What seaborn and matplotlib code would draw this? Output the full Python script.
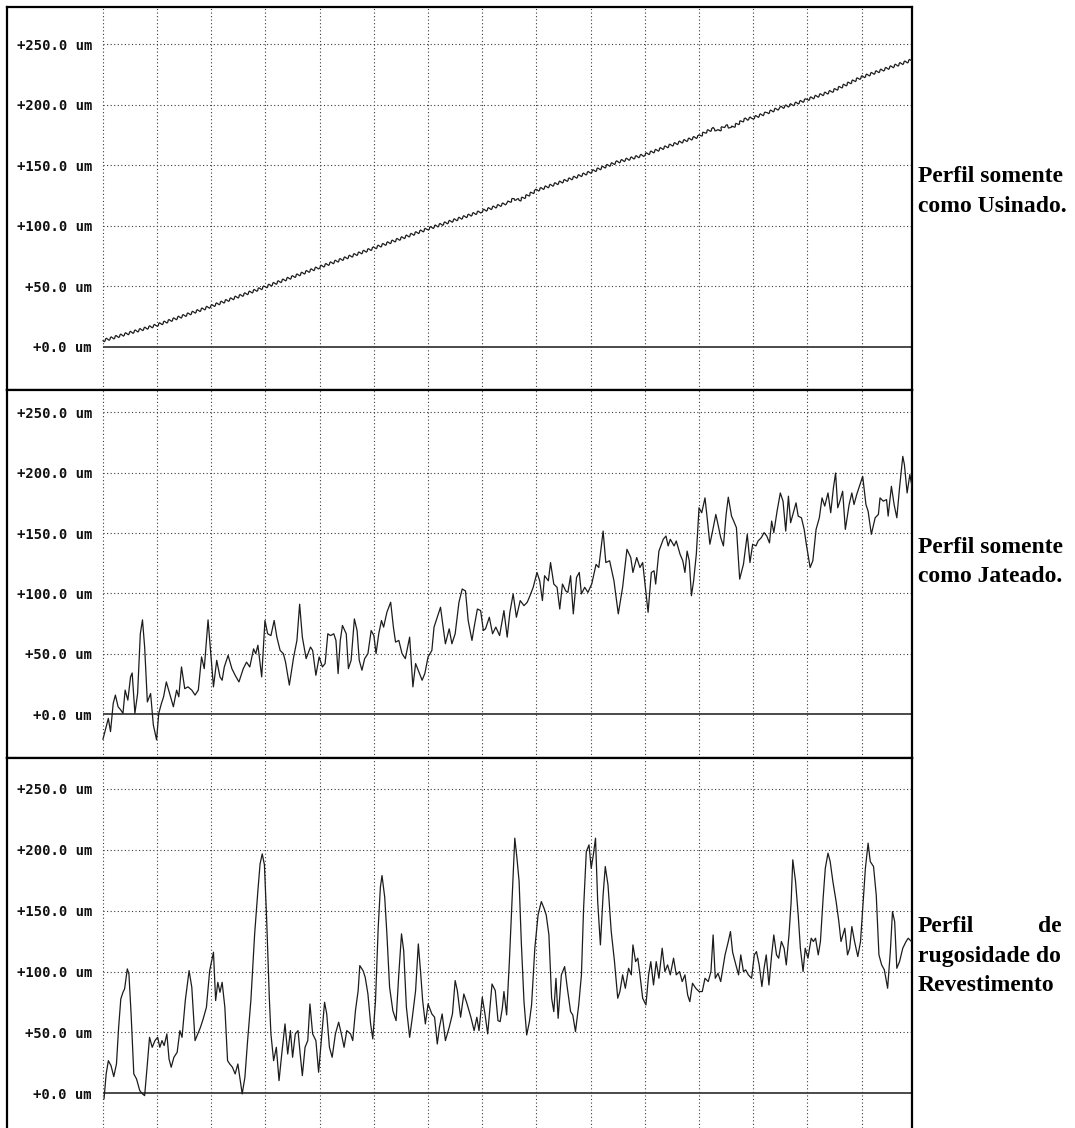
import matplotlib
matplotlib.use("Agg")
import matplotlib.pyplot as plt
import seaborn as sns
import pandas as pd

# ---------------- data (x = position along profile, grid every 100) -------------
x_usinado = [0, 100, 200, 300, 400, 500, 600, 700, 747, 759, 768, 800, 900, 949,
             1000, 1047, 1101, 1112, 1127, 1136, 1148, 1160, 1184, 1200, 1226,
             1250, 1274, 1300, 1346, 1398, 1442, 1493]
y_usinado = [5, 17.9, 33.5, 49.5, 65.8, 81.5, 97.5, 112.1, 119, 122.3, 121, 129.2,
             144.4, 152.6, 158.7, 166.4, 174.1, 177.4, 180.2, 178.2, 182.9, 181,
             187.8, 189.2, 193.4, 197.5, 200.3, 204.4, 211.3, 222.4, 229.3, 237]

x_jateado = [
    0, 6, 10, 14, 19, 23, 28, 33, 37, 41,
    46, 51, 54, 59, 64, 69, 73, 77, 82, 88,
    93, 99, 103, 108, 112, 117, 123, 130, 136, 140,
    145, 151, 157, 164, 170, 176, 182, 187, 191, 194,
    199, 204, 210, 216, 220, 224, 231, 238, 244, 251,
    259, 265, 271, 278, 282, 286, 293, 299, 304, 310,
    316, 321, 327, 333, 337, 344, 352, 358, 363, 368,
    375, 383, 387, 393, 399, 405, 410, 415, 420, 426,
    430, 434, 438, 442, 449, 453, 458, 464, 469, 473,
    478, 483, 489, 495, 500, 504, 509, 514, 518, 524,
    531, 536, 540, 546, 552, 558, 566, 572, 577, 583,
    589, 594, 600, 607, 611, 617, 623, 627, 632, 639,
    644, 650, 657, 663, 669, 674, 681, 685, 691, 697,
    702, 706, 713, 719, 725,
    732, 740, 746, 751, 757, 763, 770, 777, 783, 788,
    794, 801, 806, 811, 815, 822, 826, 832, 838, 843,
    848, 854, 858, 863, 868, 874, 879, 883, 889, 895,
    902, 910, 915, 923, 928, 935, 943, 951, 959, 967,
    974, 978, 985, 991, 996, 1001, 1006, 1012, 1017, 1020,
    1026, 1034, 1039, 1043, 1047, 1054, 1058, 1065, 1070, 1074,
    1078, 1082, 1086, 1090, 1095, 1100, 1105, 1111, 1115, 1120,
    1125, 1131, 1135, 1140, 1145, 1150, 1154, 1160, 1164, 1169,
    1175, 1182, 1189, 1194, 1199, 1205, 1209, 1215, 1220, 1225,
    1230, 1234, 1238, 1244, 1250, 1255, 1260, 1265, 1269, 1274,
    1279, 1283, 1289, 1294, 1298, 1305, 1310, 1316, 1322, 1327,
    1332, 1338, 1343, 1348, 1352, 1356, 1360, 1365, 1370, 1377,
    1382, 1386, 1391, 1396, 1402, 1408, 1412, 1418, 1425, 1431,
    1434, 1440, 1446, 1449, 1455, 1460, 1465, 1470, 1476, 1479,
    1484, 1489, 1494]
y_jateado = [
    -21, -10.4, -3.6, -14.6, 8.8, 15.7, 6, 3.3, 0.5, 19.8,
    11.5, 30.8, 34, 0.5, 17, 66.5, 78, 55.5, 10, 17,
    -9, -21.4, 0.5, 8.8, 14.3, 26.6, 17, 6, 19.8, 14.3,
    39, 21, 22.5, 19.8, 15.7, 19.8, 47.3, 37.6, 61, 78,
    50, 22.5, 44.5, 30.8, 28, 39, 48.6, 37.6, 32.1, 26.6,
    37.6, 43, 39, 54, 50, 57, 30.8, 77.5, 66.5, 65,
    77.5, 63.7, 52.7, 50, 43, 24, 47.3, 61, 91, 63.7,
    45.9, 55.5, 52.7, 32.1, 47.3, 39, 41.8, 66.5, 65, 66.5,
    61, 33.5, 61, 73.4, 66.5, 37.6, 44.5, 78.8, 69.2, 44.5,
    36.3, 45.9, 50, 69.2, 65, 50, 66.5, 77.5, 72, 84.3,
    92.6, 72, 59.6, 61, 50, 45.9, 63.7, 22.5, 41.8, 34.9,
    28, 33.5, 47.3, 52.7, 72, 80.2, 88.5, 74.7, 58.2, 70.6,
    58.2, 66.5, 92.6, 103.6, 102, 77.5, 61, 72, 87, 85.7,
    69.2, 70.6, 80.2, 66.5, 72,
    65, 85.7, 63.7, 84.3, 99.5, 80.2, 94, 89.8, 92.6, 98,
    105, 117.3, 110.4, 94, 114.6, 110.4, 125.5, 107.7, 105, 87,
    107.7, 102, 100.8, 114.6, 83, 113.2, 117.3, 99.5, 105, 100.8,
    107.7, 124, 121.4, 151.6, 125.5, 127, 110.4, 83, 105, 136.5,
    129.7, 117.3, 129.7, 121.4, 125.5, 105, 84.3, 117.3, 118.7, 107.7,
    135, 144.8, 147.5, 139.3, 144.8, 139.3, 143.4, 132.4, 127, 117.3,
    135, 127, 98, 110.4, 132.4, 170.9, 166.8, 179.1, 162.6, 140.7,
    151.6, 165.4, 157.1, 146.2, 139.3, 165.4, 179.7, 164, 159.9, 154.4,
    111.8, 124.2, 148.9, 125.5, 140.7, 139.3, 143.4, 146.2, 150.3, 147.5,
    141.8, 159.9, 150.3, 168.1, 183.2, 176.4, 151.6, 180.5, 158.5, 166.8,
    175, 164, 162.6, 153, 140.7, 121.4, 127, 153, 162.6, 179.1,
    172.3, 183.2, 166.8, 187.4, 199.7, 170.9, 176.4, 184.6, 153, 173.6,
    183.2, 173.6, 181.9, 188.7, 197, 173.6, 168.1, 148.9, 162.6, 165.4,
    179.1, 176.4, 177.7, 164, 188.7, 173.6, 162.6, 187.4, 213.5, 206.6,
    183.2, 198.4, 186]

x_revest = [
    2, 6, 10, 15, 20, 25, 29, 33, 37, 40,
    45, 48, 52, 57, 62, 68, 73, 77, 82, 86,
    91, 96, 101, 105, 109, 113, 118, 122, 126, 131,
    137, 142, 146, 152, 159, 164, 170, 175, 180, 185,
    191, 197, 204, 208, 212, 216, 220, 225, 230, 234,
    239, 244, 249, 253, 257, 262, 267, 273, 280, 286,
    290, 294, 298, 302, 307, 310, 315, 320, 325, 330,
    336, 341, 346, 350, 355, 360, 364, 368, 373, 378,
    382, 387, 393, 398, 403, 409, 413, 418, 423, 429,
    435, 440, 445, 450, 457, 461, 466, 471, 474, 480,
    484, 489, 494, 498, 503, 508, 512, 515, 520, 524,
    529, 535, 541, 546, 551, 555, 560, 566, 571, 577,
    582, 586, 590, 595, 600, 607, 612, 617, 621, 626,
    632, 639, 645, 650, 654, 660, 666, 672, 679, 685,
    690, 694, 700, 705, 710, 718, 724, 729,
    733, 737, 740, 745, 750, 754, 760, 764, 768, 772,
    777, 782, 787, 791, 797, 803, 809, 814, 818, 823,
    828, 832, 836, 840, 846, 852, 857, 863, 867, 872,
    878, 883, 887, 892, 897, 901, 905, 909, 913, 918,
    923, 927, 932, 938, 944, 950, 954, 959, 964, 970,
    975, 978, 983, 987, 991, 996, 1002, 1007, 1011, 1016,
    1021, 1026, 1032, 1037, 1042, 1047, 1053, 1058, 1064, 1069,
    1074, 1079, 1083, 1088, 1094, 1100, 1106, 1111, 1117, 1122,
    1126, 1130, 1135, 1140, 1148, 1154, 1158, 1162, 1168, 1173,
    1177, 1182, 1186, 1191, 1197, 1202, 1206, 1211, 1216, 1220,
    1224, 1229, 1234, 1238, 1243, 1247, 1252, 1257, 1261, 1266,
    1270, 1273, 1278, 1283, 1287, 1292, 1296, 1301, 1307, 1311,
    1315, 1320, 1324, 1329, 1333, 1338, 1342, 1347, 1353, 1358,
    1362, 1369, 1374, 1378, 1382, 1387, 1393, 1398, 1403, 1407,
    1412, 1416, 1422, 1427, 1432, 1437, 1442, 1448, 1453, 1457,
    1461, 1465, 1470, 1476, 1482, 1486, 1492]
y_revest = [
    -4.7, 15.9, 26.8, 22.7, 13.7, 24.1, 54.2, 77.5, 83, 85.8,
    102.2, 98, 65.2, 15.9, 11.8, 2.2, -0.5, -1.9, 24.1, 46,
    37.8, 43.3, 46, 37.8, 43.3, 39.2, 48.8, 28.2, 21.4, 29.6,
    33.7, 51.5, 46, 76.2, 100.8, 87.1, 43.3, 48.8, 54.2, 61.1,
    70.7, 100.8, 115.9, 76.2, 91.2, 83, 91.2, 70.7, 26.8, 24.1,
    21.4, 15.9, 24.1, 11.8, -0.5, 13.2, 43.3, 76.2, 131, 166.6,
    188.5, 196.7, 187.7, 144.7, 78.9, 48.8, 26.8, 37.8, 10.4, 32.3,
    57, 32.3, 51.5, 29.6, 48.8, 51.5, 32.3, 14.5, 37.8, 43.3,
    73.4, 48.8, 43.3, 17.3, 43.3, 74.8, 65.2, 37.8, 29.6, 48.8,
    58.4, 48.8, 37.8, 51.5, 48.8, 43.3, 67.9, 84.4, 104.9, 100.8,
    95.3, 81.6, 57, 44.7, 76.2, 136.4, 169.3, 178.9, 161.1, 131,
    87.1, 67.9, 59.7, 98, 131, 117.3, 70.7, 46, 62.5, 84.4,
    122.7, 100.8, 76.2, 57, 73.4, 65.2, 62.5, 40.5, 54.2, 65.2,
    43.3, 54.2, 65.2, 92.6, 84.4, 62.5, 81.6, 73.4, 62.5, 51.5,
    62.5, 51.5, 78.9, 65.2, 48.8, 89.8, 84.4, 59.7,
    58.9, 69.9, 83.6, 64.4, 108.2, 149.3, 209.6, 193.2, 174, 124.7,
    75.3, 47.9, 58.9, 72.6, 119.2, 146.6, 157.5, 152, 146.6, 130.1,
    78.1, 67.1, 94.5, 61.6, 97.3, 104.1, 86.3, 67.1, 64.4, 50.7,
    72.6, 97.3, 152, 198.6, 204.1, 184.9, 195.9, 209.6, 157.5, 121.9,
    163, 186.3, 171.2, 132.9, 108.2, 78.1, 83.6, 97.3, 86.3, 102.7,
    97.3, 121.9, 108.2, 111, 97.3, 78.1, 72.6, 97.3, 108.2, 89,
    108.2, 94.5, 119.2, 100, 105.5, 97.3, 111, 97.3, 100, 91.8,
    97.3, 80.8, 75.3, 90.4, 86.3, 83.6, 83.6, 94.5, 91.8, 100,
    130.1, 94.5, 98.6, 91.8, 113.7, 124.7, 132.9, 115.9, 105.5, 97.3,
    113.7, 100, 101.4, 97.3, 94.5, 113.7, 116.4, 105.5, 87.7, 102.7,
    113.7, 89, 113.7, 130.1, 113.7, 111, 124.7, 119.2, 105.5, 130.1,
    157.5, 191.8, 174.5, 146.6, 119.2, 100, 119.2, 111, 127.4, 124.7,
    127.4, 113.7, 124.7, 160.3, 184.9, 197.3, 190.4, 174, 157.5, 141.1,
    124.7, 135.6, 113.7, 119.2, 137, 124.7, 112.3, 124.7, 157.5, 184.9,
    205.5, 190.4, 186.3, 163, 113.7, 105.5, 101.4, 86.3, 116.4, 149.3,
    141.1, 102.7, 108.2, 119.2, 124.7, 127.4, 124.7]

y_tick_values = [0, 50, 100, 150, 200, 250]
y_tick_labels = ["+0.0 um", "+50.0 um", "+100.0 um", "+150.0 um", "+200.0 um", "+250.0 um"]
x_grid_values = [0, 100, 200, 300, 400, 500, 600, 700, 800, 900, 1000, 1100, 1200, 1300, 1400]

panel_titles = [["Perfil somente", "como Usinado."],
                ["Perfil somente", "como Jateado."],
                ["Perfil", "de", "rugosidade do", "Revestimento"]]

# ---------------- figure ----------------
sns.set_style("white")
plt.rcParams['font.family'] = ['DejaVu Sans']

W, H = 1075, 1128
fig = plt.figure(figsize=(W / 100, H / 100), dpi=100)

left_px, right_px = 7, 912
panels_px = [(7, 390), (390, 757.7), (757.7, 1128)]
ylims = [(-35.8, 280.8), (-36.2, 268.5), (-28.5, 275.7)]
xlim = (-177, 1493)

series = [(x_usinado, y_usinado), (x_jateado, y_jateado), (x_revest, y_revest)]

grid_kw = dict(color="#3a3a3a", linestyle=(0, (1, 2.2)), linewidth=0.8)

for i, ((top, bot), (xs, ys)) in enumerate(zip(panels_px, series)):
    ax = fig.add_axes([left_px / W, 1 - bot / H, (right_px - left_px) / W, (bot - top) / H])
    ax.set_xlim(*xlim)
    ax.set_ylim(*ylims[i])

    # grid
    for xv in x_grid_values:
        ax.axvline(xv, zorder=1, **grid_kw)
    ax.hlines(y_tick_values[1:], x_grid_values[0], xlim[1], zorder=1, **grid_kw)
    # reference (zero) line
    ax.hlines(0, x_grid_values[0], xlim[1], color="#3c3c3c", linewidth=1.3, zorder=2)

    df = pd.DataFrame({"x": xs, "y": ys})
    sns.lineplot(data=df, x="x", y="y", ax=ax, color="#1c1c1c",
                 linewidth=0.9, estimator=None, sort=False, zorder=3)
    if i == 0:
        ax.lines[-1].set_sketch_params(scale=1.4, length=5, randomness=1)

    ax.set_xlabel("")
    ax.set_ylabel("")
    ax.set_xticks([])
    ax.set_yticks(y_tick_values)
    ax.set_yticklabels(y_tick_labels, fontfamily="DejaVu Sans Mono",
                       fontweight="bold", fontsize=10, color="#111111")
    ax.tick_params(axis="y", length=0, pad=-61.2)

    for s in ax.spines.values():
        s.set_color("black")
        s.set_linewidth(1.6)
    if i == 2:
        ax.spines["bottom"].set_visible(False)

# ---------------- right side captions ----------------
txt_kw = dict(fontfamily="Liberation Serif", fontweight="bold", fontsize=17,
              color="black", va="baseline")
tx0 = 918 / W
tx1 = 1062 / W
fig.text(tx0, 1 - 181.7 / H, panel_titles[0][0], ha="left", **txt_kw)
fig.text(tx0, 1 - 211.7 / H, panel_titles[0][1], ha="left", **txt_kw)
fig.text(tx0, 1 - 552.7 / H, panel_titles[1][0], ha="left", **txt_kw)
fig.text(tx0, 1 - 581.7 / H, panel_titles[1][1], ha="left", **txt_kw)
fig.text(tx0, 1 - 931.7 / H, panel_titles[2][0], ha="left", **txt_kw)
fig.text(tx1, 1 - 931.7 / H, panel_titles[2][1], ha="right", **txt_kw)
fig.text(tx0, 1 - 961.7 / H, panel_titles[2][2], ha="left", **txt_kw)
fig.text(tx0, 1 - 990.7 / H, panel_titles[2][3], ha="left", **txt_kw)

fig.savefig("out.png", dpi=100, facecolor="white")
